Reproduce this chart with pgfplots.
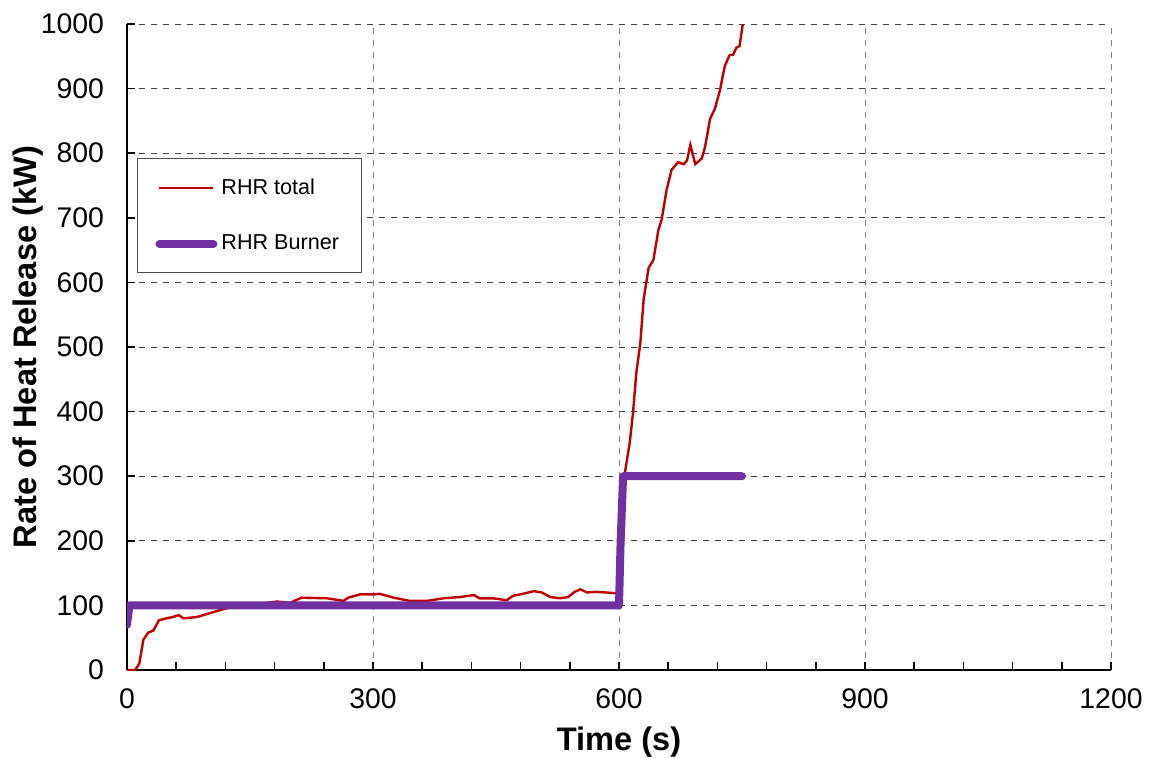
\documentclass[border=0pt]{standalone}
\usepackage{fontspec}
\setmainfont{Liberation Sans}
\usepackage{pgfplots}
\pgfplotsset{compat=1.18}

\definecolor{rhrred}{HTML}{C00000}
\definecolor{rhrpurple}{HTML}{7030A0}

\pgfplotstableread{
t q
0 0
10 0
15 10
20 47
26 58
32 61
39 77
48 80
56 82
63 85
69 80
85 82
101 88
117 94
134 99
150 101
165 103
183 106
199 104
213 112
244 111
264 107
270 112
284 117
300 117
308 118
325 112
345 107
366 107
386 111
406 113
423 116
430 111
447 111
463 108
471 115
483 118
496 122
506 120
516 113
528 111
538 113
546 121
553 125
561 120
573 121
595 119
600 118
602 150
605 250
607 304
613 351
617 397
621 459
626 506
630 573
636 622
642 635
648 681
652 697
658 743
664 774
672 786
679 783
683 789
687 813
693 783
701 792
705 810
711 853
717 869
723 897
729 935
735 952
739 952
743 963
747 966
751 1000
753 1030
}\rhrtotal

\pgfplotstableread{
t q
0 70
3 100
600 100
602 200
605 300
750 300
}\rhrburner

\begin{document}
\begin{tikzpicture}
\useasboundingbox (-63.5pt,-43.5pt) rectangle (511pt,335pt);
\begin{axis}[
  scale only axis,
  width=492pt, height=323pt,
  xmin=0, xmax=1200, ymin=0, ymax=1000,
  xtick={0,300,...,1200}, ytick={0,100,...,1000},
  minor x tick num=4,
  axis x line*=bottom, axis y line*=left,
  axis line style={line width=1pt, -},
  tick style={line width=0.8pt, black},
  major tick length=4pt, minor tick length=4pt,
  tick align=inside,
  xmajorgrids, ymajorgrids,
  x grid style={black!50, dashed, line width=0.5pt},
  y grid style={black!75, dashed, line width=0.5pt},
  tick label style={font=\fontsize{14.2}{16}\selectfont},
  /pgf/number format/assume math mode=true,
  /pgf/number format/1000 sep={},
  xticklabel style={yshift=-6pt},
  yticklabel style={xshift=-8pt},
  xlabel={\bfseries Time (s)},
  ylabel={\bfseries Rate of Heat Release (kW)},
  label style={font=\fontsize{16.3}{18}\selectfont},
  xlabel style={at={(axis description cs:0.5,0)}, anchor=center, yshift=-36pt},
  ylabel style={at={(axis description cs:0,0.5)}, anchor=center, yshift=49.5pt},
  legend style={at={(0.0102,0.7926)}, anchor=north west, draw=black!70,
    font=\fontsize{10.8}{13}\selectfont, inner xsep=9pt, inner ysep=8pt,
    row sep=15pt, cells={anchor=west}},
  legend image code/.code={\draw[#1] (0pt,0pt) -- (27pt,0pt);},
]
\addplot[rhrred, line width=1.2pt] table[x=t, y=q] {\rhrtotal};
\addlegendentry{RHR total}
\addplot[rhrpurple, line width=4pt, line cap=round, line join=round] table[x=t, y=q] {\rhrburner};
\addlegendentry{RHR Burner}
\end{axis}
\end{tikzpicture}
\end{document}
